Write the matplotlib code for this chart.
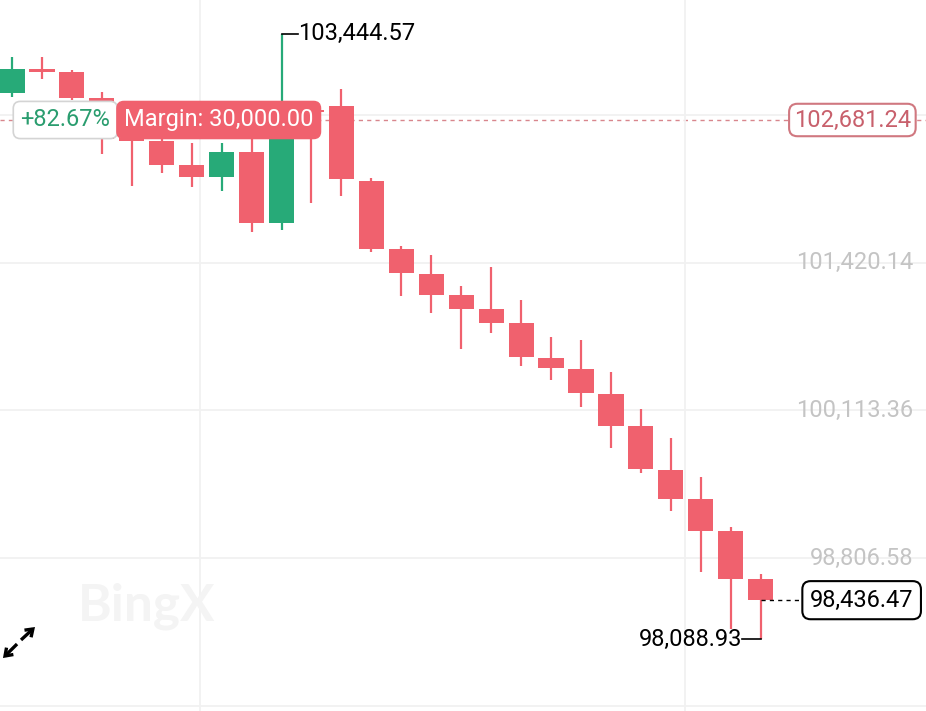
import matplotlib
matplotlib.use("Agg")
import matplotlib.pyplot as plt
import matplotlib.transforms as mtransforms
from matplotlib.patches import FancyArrowPatch

plt.rcParams['font.family'] = ['Roboto', 'DejaVu Sans']

# candle data (open, high, low, close)
opens = [102920, 103132, 103106, 102876, 102513, 102496, 102283, 102177, 102398, 101771,
         102770, 102805, 102142, 101541, 101320, 101134, 101010, 100887, 100577, 100480,
         100259, 99976, 99587, 99331, 99048, 98624]
highs = [103238, 103238, 103123, 102929, 102699, 102531, 102478, 102478, 102531, 103444.57,
         102796, 102955, 102169, 101567, 101488, 101214, 101382, 101090, 100763, 100736,
         100454, 100126, 99870, 99525, 99083, 98668]
lows = [102885, 103044, 102858, 102381, 102098, 102213, 102089, 102054, 101691, 101709,
        101948, 102009, 101514, 101125, 100975, 100657, 100798, 100507, 100383, 100144,
        99782, 99561, 99225, 98686, 98182, 98088.93]
closes = [103132, 103106, 102876, 102513, 102496, 102283, 102177, 102398, 101771, 102770,
          102752, 102160, 101541, 101329, 101134, 101010, 100887, 100586, 100489, 100268,
          99976, 99596, 99331, 99048, 98624, 98436.47]

grid_levels = [97499.80, 98806.58, 100113.36, 101420.14, 102726.92]
axis_labels = ["98,806.58", "100,113.36", "101,420.14"]
axis_values = [98806.58, 100113.36, 101420.14]

entry_price = 102681.24
last_price = 98436.47
high_price = 103444.57
low_price = 98088.93
pnl_text = "+82.67%"
margin_text = "Margin: 30,000.00"

RED = "#f0616e"
GREEN = "#27aa78"
GRID = "#f1f1f1"
FS = 17

fig = plt.figure(figsize=(9.26, 7.11), dpi=100)
ax = fig.add_axes([0, 0, 1, 1])
ax.set_xlim(-0.40, 30.52)
ax.set_ylim(97456.8, 103742.0)
for s in ax.spines.values():
    s.set_visible(False)
ax.set_yticks(grid_levels)
ax.set_xticks([6.28, 22.47])
ax.tick_params(length=0, labelleft=False, labelbottom=False)
ax.grid(True, color=GRID, lw=1.3, zorder=0)

for i in range(len(opens)):
    o, h, l, c = opens[i], highs[i], lows[i], closes[i]
    col = GREEN if c >= o else RED
    ax.vlines(i, l, h, color=col, lw=1.6, zorder=3)
    height = max(abs(c - o), 22)
    ax.bar(i, height, bottom=min(o, c), width=0.84, color=col, zorder=4, lw=0)

# entry price dashed line
ax.axhline(entry_price, color="#d8868d", lw=1.0, ls=(0, (3, 3)), zorder=1)

trans = mtransforms.blended_transform_factory(ax.transAxes, ax.transData)
for lab, v in zip(axis_labels, axis_values):
    ax.text(0.986, v, lab, transform=trans, ha="right", va="center",
            fontsize=FS, color="#c4c4c4", zorder=5)

ax.text(0.9205, entry_price, "102,681.24", transform=trans, ha="center", va="center",
        fontsize=FS, color="#c8606c", zorder=6,
        bbox=dict(boxstyle="round,pad=0.2,rounding_size=0.35", fc="white",
                  ec="#d07880", lw=1.5))

# last price
ax.plot([25, 26.3], [last_price, last_price], color="black", lw=1.0,
        ls=(0, (3, 3)), zorder=5)
ax.text(0.9305, last_price, "98,436.47", transform=trans, ha="center", va="center",
        fontsize=FS, color="black", zorder=6,
        bbox=dict(boxstyle="round,pad=0.32,rounding_size=0.35", fc="white",
                  ec="black", lw=1.5))

# high / low markers
hi_i = highs.index(high_price)
ax.plot([hi_i, hi_i + 0.55], [high_price, high_price], color="black", lw=1.2, zorder=5)
ax.text(hi_i + 0.56, high_price, "103,444.57", ha="left", va="center",
        fontsize=FS, color="black", zorder=6)
lo_i = lows.index(low_price)
ax.plot([lo_i, lo_i - 0.62], [low_price, low_price], color="black", lw=1.2, zorder=5)
ax.text(lo_i - 0.63, low_price, "98,088.93", ha="right", va="center",
        fontsize=FS, color="black", zorder=6)

# position labels
ax.text(0.0705, entry_price, pnl_text, transform=trans, ha="center", va="center",
        fontsize=FS, color="#2a9d6f", zorder=7,
        bbox=dict(boxstyle="round,pad=0.3,rounding_size=0.3", fc="white",
                  ec="#d4d4d4", lw=1.2))
ax.text(0.2362, entry_price, margin_text, transform=trans, ha="center", va="center",
        fontsize=FS, color="white", zorder=8,
        bbox=dict(boxstyle="round,pad=0.3,rounding_size=0.3", fc=RED,
                  ec=RED, lw=1.0))

# watermark
fig.text(0.158, 0.147, "BingX", ha="center", va="center", fontsize=37,
         fontweight="bold", color="#f4f4f4", family="Lato", zorder=1)

# expand icon
for a, b in [((0.0227, 0.0999), (0.0378, 0.1181)), ((0.0184, 0.0942), (0.0032, 0.0745))]:
    fig.add_artist(FancyArrowPatch(
        a, b, transform=fig.transFigure, arrowstyle="->,head_length=5,head_width=3.5",
        color="black", lw=2.4, mutation_scale=1, shrinkA=0, shrinkB=0,
        capstyle="butt", joinstyle="miter"))

fig.savefig("out.png", dpi=100, facecolor="white")
